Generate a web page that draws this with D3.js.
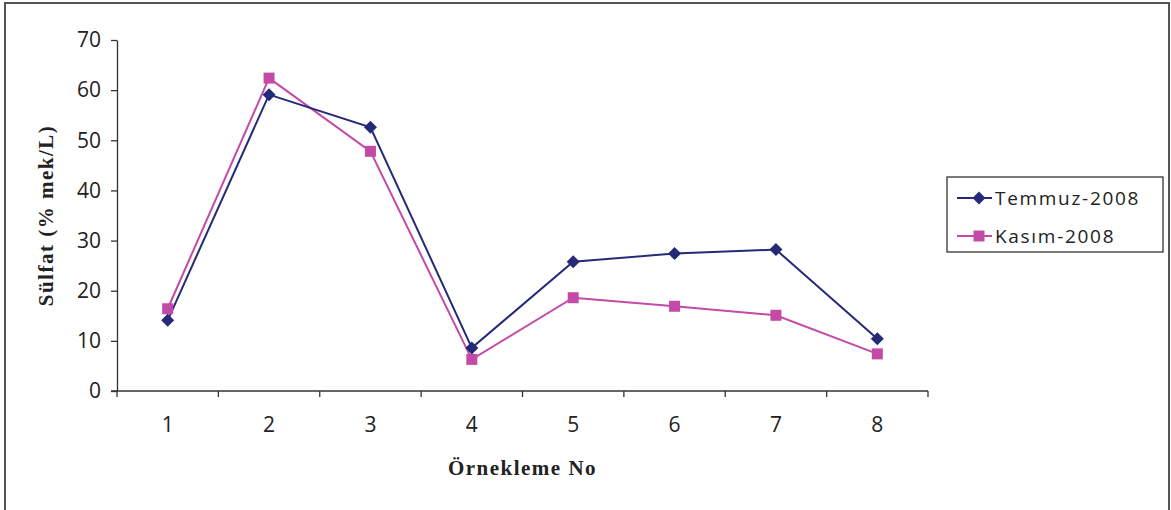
<!DOCTYPE html>
<html>
<head>
<meta charset="utf-8">
<script src="https://cdn.jsdelivr.net/npm/d3@7/dist/d3.min.js"></script>
<style>
  html, body { margin: 0; padding: 0; background: #fff; }
  svg { display: block; }
</style>
</head>
<body>
<div id="chart"></div>
<script>
// Örnekleme noktaları ve sülfat değerleri (% mek/L)
const samples = ['1', '2', '3', '4', '5', '6', '7', '8'];
const temmuz = [14.1, 59.1, 52.6, 8.6, 25.8, 27.4, 28.2, 10.4];
const kasim = [16.4, 62.4, 47.8, 6.3, 18.6, 16.9, 15.1, 7.4];
const yTicks = [0, 10, 20, 30, 40, 50, 60, 70];

const series = [
    { name: 'Temmuz-2008', values: temmuz, color: '#252a78', shape: 'diamond' },
    { name: 'Kasım-2008', values: kasim, color: '#c34aa6', shape: 'square' }
];

const W = 1171, H = 510;
const margin = { left: 117, top: 40, right: 243, bottom: 119 };

const svg = d3.select('#chart').append('svg')
    .attr('width', W)
    .attr('height', H);

// dış çerçeve
svg.append('rect')
    .attr('x', 5).attr('y', 3)
    .attr('width', 1164).attr('height', 520)
    .attr('fill', 'none')
    .attr('stroke', '#555')
    .attr('stroke-width', 2);

const x = d3.scaleBand()
    .domain(samples)
    .range([margin.left, W - margin.right]);

const y = d3.scaleLinear()
    .domain([0, 70])
    .range([H - margin.bottom, margin.top]);

const tickFont = '"Open Sans", "Noto Sans", sans-serif';
const titleFont = '"Liberation Serif", "DejaVu Serif", serif';

// Y ekseni
const yAxis = svg.append('g')
    .attr('transform', `translate(${margin.left},0)`)
    .call(d3.axisLeft(y).tickValues(yTicks).tickSize(6).tickPadding(10).tickSizeOuter(0));

// X ekseni — kategori sınırlarında tikler
const xAxis = svg.append('g')
    .attr('transform', `translate(0,${y(0)})`);
xAxis.append('line')
    .attr('x1', margin.left - 6).attr('x2', W - margin.right)
    .attr('stroke', '#333').attr('stroke-width', 1.3);
xAxis.selectAll('.tk')
    .data(samples.concat(['end']))
    .enter().append('line')
    .attr('x1', (d, i) => margin.left + i * x.bandwidth())
    .attr('x2', (d, i) => margin.left + i * x.bandwidth())
    .attr('y1', 0).attr('y2', 6)
    .attr('stroke', '#333').attr('stroke-width', 1.3);
xAxis.selectAll('.lbl')
    .data(samples)
    .enter().append('text')
    .attr('x', d => x(d) + x.bandwidth() / 2)
    .attr('y', 41)
    .attr('text-anchor', 'middle')
    .attr('fill', '#222')
    .attr('font-family', tickFont)
    .attr('font-size', '21px')
    .text(d => d);

yAxis.select('.domain').attr('stroke', '#333').attr('stroke-width', 1.3);
yAxis.selectAll('.tick line').attr('stroke', '#333').attr('stroke-width', 1.3);
yAxis.selectAll('.tick text')
    .attr('fill', '#222')
    .attr('font-family', tickFont)
    .attr('font-size', '21px');

// Eksen başlıkları
svg.append('text')
    .attr('x', (margin.left + W - margin.right) / 2)
    .attr('y', 475)
    .attr('text-anchor', 'middle')
    .attr('font-family', titleFont)
    .attr('font-weight', 'bold')
    .attr('font-size', '21px')
    .attr('letter-spacing', '1.5px')
    .attr('fill', '#222')
    .text('Örnekleme No');

svg.append('text')
    .attr('transform', `translate(53,${(y(0) + y(70)) / 2}) rotate(-90)`)
    .attr('text-anchor', 'middle')
    .attr('font-family', titleFont)
    .attr('font-weight', 'bold')
    .attr('font-size', '21px')
    .attr('letter-spacing', '1.5px')
    .attr('fill', '#222')
    .text('Sülfat (% mek/L)');

const cx = (d, i) => x(samples[i]) + x.bandwidth() / 2;

const line = d3.line()
    .x((d, i) => cx(d, i))
    .y(d => y(d));

function drawMarker(g, shape, color) {
    if (shape === 'diamond') {
        g.append('path')
            .attr('d', 'M0,-6.5L6.5,0L0,6.5L-6.5,0Z')
            .attr('fill', color);
    } else {
        g.append('rect')
            .attr('x', -5.5).attr('y', -5.5)
            .attr('width', 11).attr('height', 11)
            .attr('fill', color);
    }
}

// Kasım önce, Temmuz üstte
[series[1], series[0]].forEach(s => {
    svg.append('path')
        .datum(s.values)
        .attr('fill', 'none')
        .attr('stroke', s.color)
        .attr('stroke-width', 2)
        .attr('d', line);
});
[series[1], series[0]].forEach(s => {
    s.values.forEach((v, i) => {
        const g = svg.append('g')
            .attr('transform', `translate(${cx(v, i)},${y(v)})`);
        drawMarker(g, s.shape, s.color);
    });
});

// Lejant
const legend = svg.append('g');
legend.append('rect')
    .attr('x', 947).attr('y', 177)
    .attr('width', 216).attr('height', 75)
    .attr('fill', '#fff')
    .attr('stroke', '#333')
    .attr('stroke-width', 1.3);

series.forEach((s, i) => {
    const ly = 198 + i * 38;
    legend.append('line')
        .attr('x1', 957).attr('x2', 992)
        .attr('y1', ly).attr('y2', ly)
        .attr('stroke', s.color).attr('stroke-width', 2);
    const g = legend.append('g').attr('transform', `translate(979,${ly})`);
    drawMarker(g, s.shape, s.color);
    legend.append('text')
        .attr('x', 995).attr('y', ly + 7)
        .attr('font-family', tickFont)
        .attr('font-size', '19px')
        .attr('letter-spacing', '1.7px')
        .attr('fill', '#222')
        .text(s.name);
});
</script>
</body>
</html>
